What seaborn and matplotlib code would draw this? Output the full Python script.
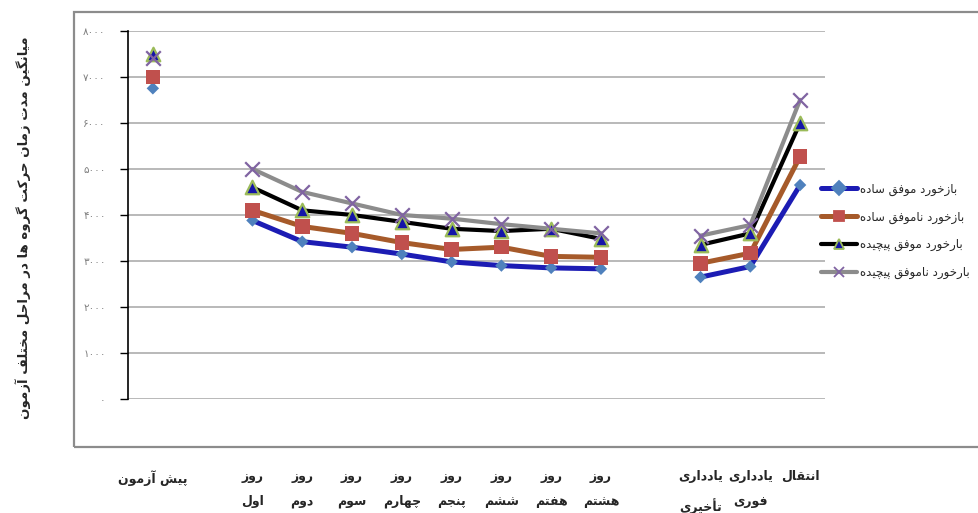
import matplotlib
matplotlib.use("Agg")
import numpy as np
import pandas as pd
import matplotlib.pyplot as plt
from matplotlib.lines import Line2D
from matplotlib.patches import Rectangle
import seaborn as sns

# category slots (blank strings are the gaps between stages)
categories = ["پیش آزمون", "", "روز\nاول", "روز\nدوم", "روز\nسوم", "روز\nچهارم",
              "روز\nپنجم", "روز\nششم", "روز\nهفتم", "روز\nهشتم", "",
              "یادداری\nتأخیری", "یادداری\nفوری", "انتقال"]

series_names = ["بازخورد موفق ساده", "بازخورد ناموفق ساده",
                "بارخورد موفق پیچیده", "بارخورد ناموفق پیچیده"]

success_simple = [6750, None, 3880, 3420, 3300, 3150, 2980, 2900, 2850, 2830, None, 2650, 2880, 4650]
fail_simple = [7000, None, 4100, 3750, 3600, 3400, 3250, 3300, 3100, 3080, None, 2950, 3170, 5270]
success_complex = [7500, None, 4600, 4100, 4000, 3850, 3700, 3650, 3700, 3480, None, 3350, 3600, 6000]
fail_complex = [7400, None, 5000, 4500, 4250, 4000, 3920, 3800, 3700, 3600, None, 3550, 3780, 6500]

y_ticks = [0, 1000, 2000, 3000, 4000, 5000, 6000, 7000, 8000]

line_colors = ["#1C1CB4", "#A65A2A", "#000000", "#8C8C8C"]
line_widths = [3.6, 3.6, 3.0, 3.0]
marker_colors = ["#4F81BD", "#C0504D", "#1414A8", "#8064A2"]
marker_edges = ["none", "none", "#9BBB59", "#8064A2"]
marker_shapes = ["D", "s", "^", "x"]
marker_sizes = [40, 110, 95, 110]

# matplotlib has no arabic shaping, so pick presentation forms by hand
FORMS = {
    "ا": (0xFE8D, 0xFE8E), "آ": (0xFE81, 0xFE82), "أ": (0xFE83, 0xFE84),
    "د": (0xFEA9, 0xFEAA), "ر": (0xFEAD, 0xFEAE), "ز": (0xFEAF, 0xFEB0),
    "و": (0xFEED, 0xFEEE),
    "ب": (0xFE8F, 0xFE90, 0xFE91, 0xFE92), "پ": (0xFB56, 0xFB57, 0xFB58, 0xFB59),
    "ت": (0xFE95, 0xFE96, 0xFE97, 0xFE98), "ج": (0xFE9D, 0xFE9E, 0xFE9F, 0xFEA0),
    "چ": (0xFB7A, 0xFB7B, 0xFB7C, 0xFB7D), "ح": (0xFEA1, 0xFEA2, 0xFEA3, 0xFEA4),
    "خ": (0xFEA5, 0xFEA6, 0xFEA7, 0xFEA8), "س": (0xFEB1, 0xFEB2, 0xFEB3, 0xFEB4),
    "ش": (0xFEB5, 0xFEB6, 0xFEB7, 0xFEB8), "ف": (0xFED1, 0xFED2, 0xFED3, 0xFED4),
    "ق": (0xFED5, 0xFED6, 0xFED7, 0xFED8), "ک": (0xFB8E, 0xFB8F, 0xFB90, 0xFB91),
    "گ": (0xFB92, 0xFB93, 0xFB94, 0xFB95), "ل": (0xFEDD, 0xFEDE, 0xFEDF, 0xFEE0),
    "م": (0xFEE1, 0xFEE2, 0xFEE3, 0xFEE4), "ن": (0xFEE5, 0xFEE6, 0xFEE7, 0xFEE8),
    "ه": (0xFEE9, 0xFEEA, 0xFEEB, 0xFEEC), "ی": (0xFBFC, 0xFBFD, 0xFBFE, 0xFBFF),
}


def shape(text):
    out = []
    for line in text.split("\n"):
        res = []
        for i, c in enumerate(line):
            if c not in FORMS:
                res.append(c)
                continue
            prev = line[i - 1] if i > 0 else None
            nxt = line[i + 1] if i + 1 < len(line) else None
            join_prev = prev in FORMS and len(FORMS[prev]) == 4
            join_next = len(FORMS[c]) == 4 and nxt in FORMS
            f = FORMS[c]
            if join_prev and join_next:
                g = f[3]
            elif join_prev:
                g = f[1]
            elif join_next:
                g = f[2]
            else:
                g = f[0]
            res.append(chr(g))
        out.append("".join(reversed(res)))
    return "\n".join(out)


def fa_digits(n):
    return str(n).translate(str.maketrans("0123456789", "۰۱۲۳۴۵۶۷۸۹"))


def build_frame():
    rows = []
    all_vals = [success_simple, fail_simple, success_complex, fail_complex]
    for name, vals in zip(series_names, all_vals):
        seg = 0
        for i, v in enumerate(vals):
            if v is None:
                seg += 1
                continue
            rows.append({"pos": i, "value": v, "series": name, "segment": seg})
    return pd.DataFrame(rows)


def main():
    sns.set_theme(style="white")
    plt.rcParams["font.family"] = ["DejaVu Sans"]

    df = build_frame()

    fig = plt.figure(figsize=(9.79, 5.13), dpi=100)
    ax = fig.add_axes([0.1307, 0.222, 0.712, 0.718])

    for k, name in enumerate(series_names):
        sub = df[df["series"] == name]
        sns.lineplot(data=sub, x="pos", y="value", units="segment", estimator=None,
                     color=line_colors[k], linewidth=line_widths[k], sort=False,
                     legend=False, ax=ax, zorder=2 + k)
    for k, name in enumerate(series_names):
        sub = df[df["series"] == name]
        lw = 1.6 if marker_shapes[k] in ("^", "x") else 0
        sns.scatterplot(data=sub, x="pos", y="value", marker=marker_shapes[k],
                        color=marker_colors[k], edgecolor=marker_edges[k],
                        linewidth=lw, s=marker_sizes[k], legend=False, ax=ax,
                        zorder=10 + k)

    ax.set_xlim(-0.5, len(categories) - 0.5)
    ax.set_ylim(0, 8000)
    ax.set_yticks(y_ticks)
    ax.set_yticklabels([fa_digits(t) for t in y_ticks], color="#7F7F7F", fontsize=7.5)
    ax.yaxis.grid(True, color="#A6A6A6", linewidth=1.1)
    ax.xaxis.grid(False)
    ax.set_xticks(range(len(categories)))
    ax.set_xticklabels([shape(c) for c in categories], fontsize=9,
                       fontweight="bold", linespacing=2.2)
    ax.tick_params(axis="x", length=0, pad=51)
    ax.tick_params(axis="y", length=6, width=1, color="black", direction="out",
                   left=True, pad=10)
    ax.set_xlabel("")
    ax.set_ylabel("")
    for side in ["top", "right", "bottom"]:
        ax.spines[side].set_visible(False)
    ax.spines["left"].set_color("black")
    ax.spines["left"].set_linewidth(1.2)

    fig.text(0.024, 0.557, shape("میانگین مدت زمان حرکت گروه ها در مراحل مختلف آزمون"),
             rotation=90, ha="center", va="center", fontsize=9.6, fontweight="bold")

    # outer chart frame
    fig.patches.append(Rectangle((0.0756, 0.1287), 0.93, 0.848, transform=fig.transFigure,
                                 fill=False, edgecolor="#8C8C8C", linewidth=1.6))

    handles = []
    for k in range(len(series_names)):
        handles.append(Line2D([0], [0], color=line_colors[k], linewidth=line_widths[k],
                              marker=marker_shapes[k], markersize=7,
                              markerfacecolor=marker_colors[k],
                              markeredgecolor=marker_edges[k] if marker_edges[k] != "none" else marker_colors[k],
                              markeredgewidth=1.3))
    fig.legend(handles, [shape(n) for n in series_names], loc="upper left",
               bbox_to_anchor=(0.828, 0.665), frameon=False, fontsize=8.5,
               handlelength=3.0, handletextpad=0.3, labelspacing=1.25)

    fig.savefig("out.png", dpi=100)
    plt.close(fig)


if __name__ == "__main__":
    main()
